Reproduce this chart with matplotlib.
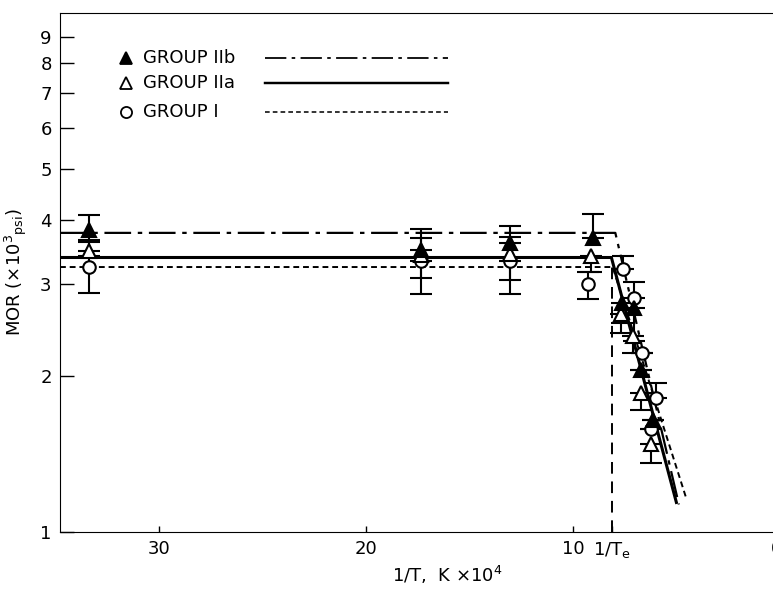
import matplotlib
matplotlib.use("Agg")
import matplotlib.pyplot as plt
from matplotlib.transforms import ScaledTranslation

# fitted curves: plateau level, knee (1/T), end of the steep part
fit_labels = ["GROUP IIb", "GROUP IIa", "GROUP I"]
fit_level = [3.77, 3.38, 3.24]
fit_knee = [7.97, 8.16, 8.1]
fit_end_x = [4.9, 5.02, 4.54]
fit_end_y = [1.13, 1.14, 1.16]
x_start = 34.8
inv_te = 8.12

# group IIb (filled triangles)
iib_x = [33.4, 17.34, 13.04, 9.03, 7.63, 7.05, 6.71, 6.14]
iib_y = [3.81, 3.50, 3.60, 3.68, 2.76, 2.70, 2.05, 1.64]
iib_lo = [3.62, 3.50, 3.60, 3.68, 2.53, 2.33, 2.05, 1.64]
iib_hi = [4.08, 3.83, 3.88, 4.10, 2.76, 2.70, 2.05, 1.64]

# group IIa (open triangles)
iia_x = [33.4, 17.34, 13.04, 9.13, 7.68, 7.10, 6.71, 6.23]
iia_y = [3.48, 3.42, 3.43, 3.40, 2.63, 2.39, 1.85, 1.48]
iia_lo = [3.48, 3.09, 3.06, 3.17, 2.42, 2.21, 1.72, 1.36]
iia_hi = [3.65, 3.68, 3.70, 3.40, 2.63, 2.39, 1.85, 1.48]

# group I (open circles)
gi_x = [33.4, 17.34, 13.04, 9.28, 7.58, 7.05, 6.67, 5.99, 6.23]
gi_y = [3.24, 3.33, 3.33, 3.00, 3.21, 2.83, 2.21, 1.81, 1.58]
gi_lo = [2.89, 2.88, 2.87, 2.81, 3.21, 2.83, 2.21, 1.81, 1.58]
gi_hi = [3.40, 3.33, 3.33, 3.17, 3.40, 3.03, 2.21, 1.94, 1.58]

x_ticks = [30, 20, 10, inv_te, 0]
x_ticklabels = ["30", "20", "10", "1/T$_\\mathrm{e}$", "0"]
y_ticks = [1, 2, 3, 4, 5, 6, 7, 8, 9]

plt.rcParams["font.family"] = "DejaVu Sans"

fig = plt.figure(figsize=(7.73, 5.91), dpi=100)
ax = fig.add_axes([60 / 773, 59 / 591, 741 / 773, 519 / 591])

styles = [(0, (12, 3, 2, 3)), "-", (0, (3, 2))]
widths = [1.6, 2.2, 1.4]
for i in range(3):
    xs = [x_start, fit_knee[i], fit_end_x[i]]
    ys = [fit_level[i], fit_level[i], fit_end_y[i]]
    ax.plot(xs, ys, color="black", linestyle=styles[i], linewidth=widths[i], zorder=2)

# 1/Te marker line
ax.plot([inv_te, inv_te], [1, fit_level[2]], color="black", linestyle=(0, (6, 4)),
        linewidth=1.4, zorder=2)

def draw_group(x, y, lo, hi, marker, face, ms):
    err = [[yy - l for yy, l in zip(y, lo)], [h - yy for yy, h in zip(y, hi)]]
    ax.errorbar(x, y, yerr=err, fmt="none", ecolor="black", elinewidth=1.5,
                capsize=8, capthick=1.5, zorder=3)
    ax.plot(x, y, linestyle="none", marker=marker, markersize=ms,
            markerfacecolor=face, markeredgecolor="black", markeredgewidth=1.5, zorder=4)

draw_group(gi_x, gi_y, gi_lo, gi_hi, "o", "white", 9)
draw_group(iia_x, iia_y, iia_lo, iia_hi, "^", "white", 10)
draw_group(iib_x, iib_y, iib_lo, iib_hi, "^", "black", 10)

ax.set_yscale("log")
ax.set_ylim(1, 10)
ax.set_xlim(x_start, -1)
ax.set_yticks(y_ticks)
ax.set_yticklabels([str(v) for v in y_ticks])
ax.yaxis.set_minor_locator(matplotlib.ticker.NullLocator())
ax.set_xticks(x_ticks)
ax.set_xticklabels(x_ticklabels)
ax.tick_params(axis="y", direction="in", length=10, width=1, labelsize=13, pad=6)
ax.tick_params(axis="x", direction="in", length=4, width=1, labelsize=13, pad=6)

# the "0" label sits at the very edge of the page, as in the original scan
zero_label = ax.get_xticklabels()[-1]
zero_label.set_transform(zero_label.get_transform() + ScaledTranslation(-4 / 100, 0, fig.dpi_scale_trans))

ax.set_ylabel("MOR (×10$^3$$_\\mathrm{psi}$)", fontsize=13, labelpad=8)
fig.text(447 / 773, 1 - 575 / 591, "1/T,  K ×10$^4$", fontsize=13, ha="center", va="center")

# legend: marker, label, line sample
leg_y = [58, 83, 112]
leg_marker = [("^", "black", 9), ("^", "white", 9), ("o", "white", 8)]
for i in range(3):
    ya = (532 - leg_y[i]) / 519
    m, fc, ms = leg_marker[i]
    ax.plot([(126 - 60) / 741], [ya], transform=ax.transAxes, marker=m, markersize=ms,
            markerfacecolor=fc, markeredgecolor="black", markeredgewidth=1.3,
            linestyle="none", clip_on=False)
    ax.text((143 - 60) / 741, ya, fit_labels[i], transform=ax.transAxes,
            fontsize=13, va="center", ha="left")
    ax.plot([(265 - 60) / 741, (448 - 60) / 741], [ya, ya], transform=ax.transAxes,
            color="black", linestyle=styles[i], linewidth=widths[i] * 0.8)

fig.savefig("out.png", dpi=100)
